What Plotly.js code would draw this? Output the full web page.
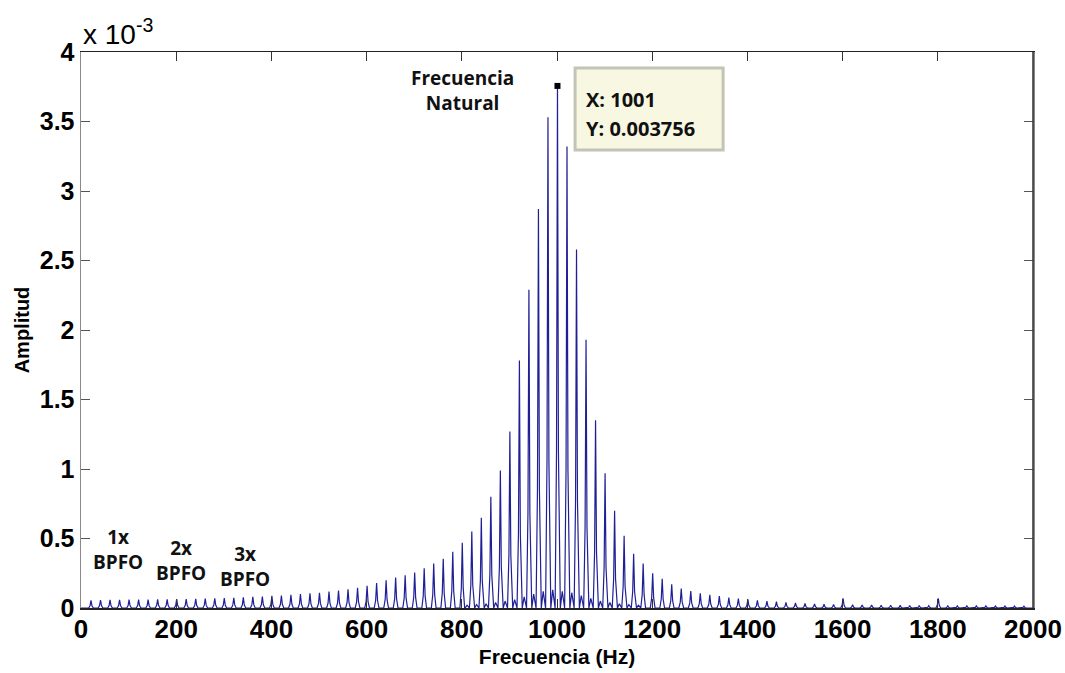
<!DOCTYPE html>
<html>
<head>
<meta charset="utf-8">
<script src="https://cdn.plot.ly/plotly-3.0.1.min.js"></script>
<style>html,body{margin:0;padding:0;background:#fff;}#chart{width:1065px;height:673px;}</style>
</head>
<body>
<div id="chart"></div>
<script>
// Spectrum peak frequencies (Hz)
const peakFreqs = [21,41,61,81,101,121,141,161,181,201,221,241,261,281,301,321,341,361,381,401,
  421,441,461,481,501,521,541,561,581,601,621,641,661,681,701,721,741,761,781,801,
  821,841,861,881,901,921,941,961,981,1001,1021,1041,1061,1081,1101,1121,1141,1161,1181,1201,
  1221,1241,1261,1281,1301,1321,1341,1361,1381,1401,1421,1441,1461,1481,1501,1521,1541,1561,1581,1601,
  1621,1641,1661,1681,1701,1721,1741,1761,1781,1801,1821,1841,1861,1881,1901,1921,1941,1961,1981];
// Peak amplitudes (x 10^-3)
const peakAmps = [0.055,0.057,0.058,0.059,0.060,0.060,0.061,0.062,0.063,0.064,0.065,0.066,0.068,0.070,0.072,0.074,0.077,0.080,0.083,0.087,
  0.090,0.095,0.100,0.105,0.110,0.118,0.125,0.135,0.145,0.160,0.180,0.200,0.220,0.235,0.255,0.285,0.320,0.355,0.405,0.470,
  0.550,0.650,0.800,0.990,1.270,1.780,2.290,2.870,3.530,3.756,3.320,2.580,1.930,1.350,0.970,0.700,0.520,0.390,0.320,0.250,
  0.210,0.170,0.140,0.122,0.105,0.095,0.085,0.075,0.068,0.063,0.055,0.050,0.045,0.040,0.036,0.033,0.030,0.028,0.026,0.070,
  0.023,0.022,0.021,0.020,0.020,0.019,0.018,0.018,0.017,0.070,0.016,0.016,0.015,0.015,0.015,0.014,0.014,0.014,0.013];
// Small sideband bumps between peaks (Hz, x 10^-3)
const sideFreqs = [811,831,851,871,891,911,931,951,971,991,1011,1031,1051,1071,1091,1111,1131,1151,1171];
const sideAmps  = [0.020,0.025,0.030,0.040,0.050,0.060,0.080,0.100,0.120,0.130,0.120,0.110,0.090,0.070,0.050,0.040,0.030,0.025,0.020];
const xTickVals = [0,200,400,600,800,1000,1200,1400,1600,1800,2000];
const yTickVals = [0,0.5,1,1.5,2,2.5,3,3.5,4];
const labels = [
  {text:'1x<br>BPFO', x:78, y:0.42},
  {text:'2x<br>BPFO', x:210, y:0.345},
  {text:'3x<br>BPFO', x:344, y:0.30},
  {text:'Frecuencia<br>Natural', x:802, y:3.72}
];

// build the spectrum line from the peak tables
const events = [];
peakFreqs.forEach((f,i)=>events.push({f:f,a:peakAmps[i],off:[-5,-2,0,2,5],fac:[0,0.3,1,0.3,0]}));
sideFreqs.forEach((f,i)=>events.push({f:f,a:sideAmps[i],off:[-4,0,4],fac:[0,1,0]}));
events.sort((p,q)=>p.f-q.f);
const lx=[0], ly=[0];
events.forEach(e=>{e.off.forEach((o,k)=>{lx.push(e.f+o); ly.push(e.a*e.fac[k]);});});
lx.push(2000); ly.push(0);

let iMax=0; peakAmps.forEach((a,i)=>{if(a>peakAmps[iMax]) iMax=i;});
const tipX = peakFreqs[iMax], tipY = peakAmps[iMax];

const traces = [
  {x:lx, y:ly, type:'scatter', mode:'lines', line:{color:'#1f1f96', width:1.2}, hoverinfo:'skip'},
  {x:[tipX], y:[tipY], type:'scatter', mode:'markers', marker:{symbol:'square', size:6, color:'#000'}, hoverinfo:'skip'}
];

const annFont = {family:'Open Sans, Noto Sans, sans-serif', size:19, color:'#111', weight:'bold'};
const annotations = labels.map(l=>({text:l.text, x:l.x, y:l.y, xref:'x', yref:'y', showarrow:false, font:annFont, align:'center'}));
annotations.push({text:'X: '+tipX, x:1056, y:3.66, xref:'x', yref:'y', xanchor:'left', showarrow:false,
  font:{family:'Open Sans, Noto Sans, sans-serif', size:20, color:'#111', weight:'bold'}});
annotations.push({text:'Y: '+(tipY/1000).toFixed(6), x:1056, y:3.45, xref:'x', yref:'y', xanchor:'left', showarrow:false,
  font:{family:'Open Sans, Noto Sans, sans-serif', size:20, color:'#111', weight:'bold'}});
annotations.push({text:'x 10<sup>-3</sup>', x:0, y:1, xref:'paper', yref:'paper', xanchor:'left', yanchor:'bottom', yshift:0,
  showarrow:false, font:{family:'Liberation Sans, Arial, sans-serif', size:28, color:'#000'}});

const layout = {
  width:1065, height:673,
  margin:{l:81, r:32, t:52, b:65},
  paper_bgcolor:'#fff', plot_bgcolor:'#fff',
  showlegend:false,
  xaxis:{range:[0,2000], tickvals:xTickVals, ticks:'inside', ticklen:9, tickcolor:'#333', tickwidth:1,
    showline:true, linecolor:'#222', linewidth:1.5, mirror:'ticks', showgrid:false, zeroline:false,
    ticklabelstandoff:-3,
    tickfont:{family:'Liberation Sans, Arial, sans-serif', size:26, color:'#000', weight:'bold'},
    title:{text:'Frecuencia (Hz)', standoff:6, font:{family:'Liberation Sans, Arial, sans-serif', size:21, color:'#000', weight:'bold'}}},
  yaxis:{range:[0,4], tickvals:yTickVals, ticks:'inside', ticklen:9, tickcolor:'#555', tickwidth:1,
    showline:true, linecolor:'#8a8a8a', linewidth:1.5, mirror:'ticks', showgrid:false, zeroline:false,
    tickfont:{family:'Liberation Sans, Arial, sans-serif', size:25, color:'#000', weight:'bold'},
    title:{text:'Amplitud', standoff:4, font:{family:'Liberation Sans, Arial, sans-serif', size:20, color:'#000', weight:'bold'}}},
  shapes:[
    {type:'line', xref:'paper', yref:'paper', x0:1, x1:1, y0:0, y1:1, line:{color:'#333', width:1.5}},
    {type:'rect', xref:'x', yref:'y', x0:1038, x1:1349, y0:3.295, y1:3.885, fillcolor:'#f8f8e2', line:{color:'#c4c4b6', width:3}, layer:'above'}
  ],
  annotations:annotations
};
Plotly.newPlot('chart', traces, layout, {displayModeBar:false, staticPlot:true});
</script>
</body>
</html>
